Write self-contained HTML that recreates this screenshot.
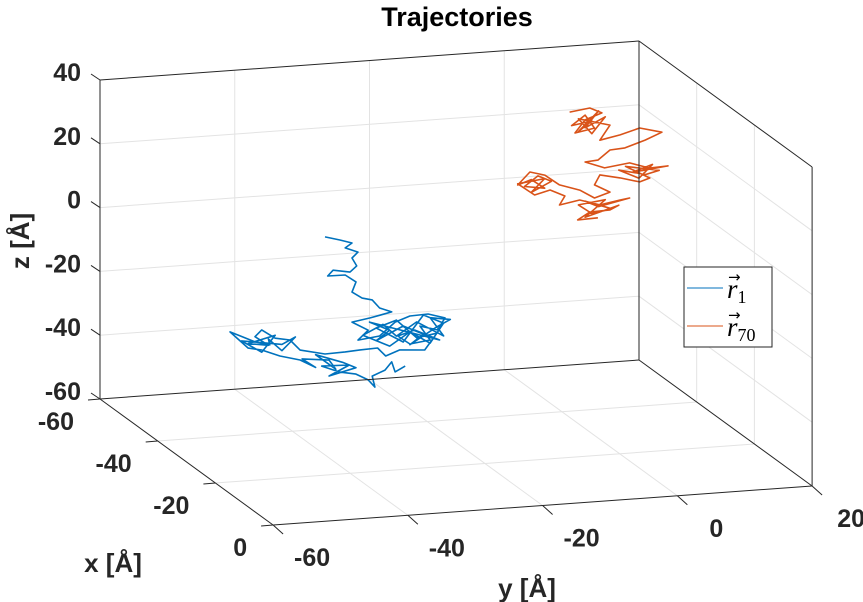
<!DOCTYPE html>
<html><head><meta charset="utf-8"><style>
html,body{margin:0;padding:0;background:#fff;}
svg{display:block;font-family:"Liberation Sans",Arial,sans-serif;}
</style></head><body>
<svg id="chart" width="863" height="602" viewBox="0 0 863 602" xmlns="http://www.w3.org/2000/svg">
<text x="457" y="26" text-anchor="middle" font-size="27" font-weight="bold" fill="#000">Trajectories</text>
<g id="grid"></g>
<g id="series"></g>
<g id="box"></g>
<g id="ticks"></g>
<text x="113" y="572" text-anchor="middle" font-size="26" font-weight="bold" fill="#262626">x [Å]</text>
<text x="527" y="597" text-anchor="middle" font-size="26" font-weight="bold" fill="#262626">y [Å]</text>
<text transform="translate(29,241) rotate(-90)" text-anchor="middle" font-size="26" font-weight="bold" fill="#262626">z [Å]</text>
<g>
  <rect x="684" y="267" width="88" height="80" fill="#fff" stroke="#262626" stroke-width="1"/>
  <line x1="687" y1="288" x2="723" y2="288" stroke="#0072BD" stroke-width="1"/>
  <text x="727" y="298" font-family="Liberation Serif,serif" font-size="27" font-style="italic" fill="#000">r<tspan font-style="normal" font-size="18" dy="5">1</tspan></text>
  <text x="728" y="282" font-family="DejaVu Sans,sans-serif" font-size="15" fill="#000">→</text>
  <line x1="687" y1="326" x2="723" y2="326" stroke="#D95319" stroke-width="1"/>
  <text x="727" y="336" font-family="Liberation Serif,serif" font-size="27" font-style="italic" fill="#000">r<tspan font-style="normal" font-size="18" dy="5">70</tspan></text>
  <text x="728" y="320" font-family="DejaVu Sans,sans-serif" font-size="15" fill="#000">→</text>
</g>
</svg>
<script>
const xTicks=[-60,-40,-20,0];
const yTicks=[-60,-40,-20,0,20];
const zTicks=[-60,-40,-20,0,20,40];
const xLim=[-60,0], yLim=[-60,20], zLim=[-60,40];
// trajectory r1 (blue) : y, z values at x = -60
const r1Y=[-26.6,-24.4,-22.6,-23.6,-21.7,-22.6,-21.9,-22.9,-25.4,-26.2,-23.6,-22.0,-22.6,-21.1,-19.6,-18.5,-16.7,-19.9,-22.6,-20.2,-21.7,-18.5,-16.2,-14.0,-11.3,-8.8,-9.9,-12.5,-11.0,-14.0,-15.8,-13.3,-9.6,
 -20,-17,-19,-15,-12,-14,-10,-8,-11,-9,-13,-16,-18,-21,-17,-14,-11,-9,-12,-15,-19,-16,-13,-10,
 -11.8,-15.5,-17.6,-18.8,-21.4,-23.6,-26.6,-30.3,-31.8,-34.0,-36.0,
 -37,-35,-38,-34,-36,-39,-33,-31,-33,-35,
 -34.8,-37.0,-39.2,-40.7,-38.0,-36.0,-33.3,-30.3,
 -28,-30,-26,-25,-28,-24,-22,-26,-23,
 -27.1,-24.4,-22.0,-20.2,-19.2,-19.6,-17.7,-16.7,-16.2,-14.7];
const r1Z=[-14.3,-15.6,-16.8,-18.2,-19.8,-21.5,-24.1,-25.9,-24.9,-26.6,-26.7,-29.1,-32.2,-34.3,-35.1,-37.8,-39.3,-40.7,-41.6,-44.5,-47.4,-46.6,-42.6,-41.0,-40.8,-42.4,-46.0,-44.4,-49.0,-49.8,-47.0,-45.5,-49.2,
 -42,-45,-48,-44,-47,-50,-45,-43,-42,-48,-43,-47,-43,-46,-50,-46,-50,-44,-41,-49,-44,-42,-48,-47,
 -52.0,-51.4,-53.0,-50.3,-50.5,-50.8,-51.0,-49.2,-45.8,-44.9,-42.0,
 -44,-47,-46,-44,-49,-45,-47,-45,-49,-45,
 -46.9,-45.6,-43.4,-41.9,-47.4,-48.3,-50.6,-52.3,
 -55,-52,-53,-56,-51,-54,-56,-58,-55,
 -54.7,-57.0,-58.0,-60.1,-62.5,-59.0,-57.4,-55.0,-58.2,-56.6];
// trajectory r70 (orange)
const r70Y=[9.7,12.7,14.5,12.0,10.5,13.4,
 12,10,13,11,14,12,15,13,11,
 15.7,14.2,17.2,20.1,23.4,20.9,17.9,15.7,13.9,12.0,14.9,18.6,21.6,24.3,
 19,22,20,17,21,23,18,
 21.6,20.1,17.2,14.2,13.4,15.7,13.4,11.2,8.2,6.0,3.8,2.0,
 4,6,3,5,7,4,6,2,
 4.5,6.8,9.0,8.2,11.2,14.2,17.2,18.6,
 14,12,16,13,11,15,12,17,
 15.7,12.7,10.9,13.9];
const r70Z=[19.3,20.1,18.3,16.5,12.6,13.7,
 18,15,16,13,19,14,17,12,17,
 14.3,9.8,11.0,12.7,10.9,8.8,6.8,6.5,3.6,3.3,1.0,2.0,-0.1,0.2,
 -1,1,-3,0,-2,-1,1,
 -3.2,-4.2,-2.5,-1.1,-4.1,-6.7,-8.2,-5.4,-3.3,0.1,1.4,-2.4,
 -1,-4,-3,0,-2,-5,-1,-2,
 -5.9,-4.7,-6.9,-9.6,-8.5,-10.5,-9.4,-9.0,
 -11,-9,-12,-13,-10,-9,-14,-11,
 -12.3,-12.5,-14.7,-14.5];
const trajX=-60;

function P(x,y,z){
  const X=x-xLim[0], Y=y-yLim[0], Z=z-zLim[0];
  return [100+X*2.885+Y*6.7375, 399+X*2.1-Y*0.4875-Z*3.19];
}
const NS="http://www.w3.org/2000/svg";
function mk(tag,parent,attrs){const e=document.createElementNS(NS,tag);for(const k in attrs)e.setAttribute(k,attrs[k]);parent.appendChild(e);return e;}
function seg(parent,a,b,color,w,name){
  const l=mk('line',parent,{x1:a[0],y1:a[1],x2:b[0],y2:b[1],stroke:color,'stroke-width':w});
  
  
  return l;
}
const grid=document.getElementById('grid');
const gc='#e3e3e3';
const [x0,x1]=xLim,[y0,y1]=yLim,[z0,z1]=zLim;
yTicks.forEach(y=>{if(y>y0&&y<y1)seg(grid,P(x0,y,z0),P(x0,y,z1),gc,1,'grid-back-y');});
zTicks.forEach(z=>{if(z>z0&&z<z1)seg(grid,P(x0,y0,z),P(x0,y1,z),gc,1,'grid-back-z');});
xTicks.forEach(x=>{if(x>x0&&x<x1)seg(grid,P(x,y1,z0),P(x,y1,z1),gc,1,'grid-side-x');});
zTicks.forEach(z=>{if(z>z0&&z<z1)seg(grid,P(x0,y1,z),P(x1,y1,z),gc,1,'grid-side-z');});
xTicks.forEach(x=>{if(x>x0&&x<x1)seg(grid,P(x,y0,z0),P(x,y1,z0),gc,1,'grid-floor-x');});
yTicks.forEach(y=>{if(y>y0&&y<y1)seg(grid,P(x0,y,z0),P(x1,y,z0),gc,1,'grid-floor-y');});

const series=document.getElementById('series');
function traj(Ys,Zs,color,name){
  const pts=Ys.map((y,i)=>P(trajX,y,Zs[i]).map(v=>v.toFixed(1)).join(',')).join(' ');
  const pl=mk('polyline',series,{points:pts,fill:'none',stroke:color,'stroke-width':1.6,'stroke-linejoin':'round'});
  
  
}
traj(r1Y,r1Z,'#0072BD','trajectory-r1');
traj(r70Y,r70Z,'#D95319','trajectory-r70');

const box=document.getElementById('box');
const bc='#262626';
seg(box,P(x0,y0,z0),P(x0,y0,z1),bc,1,'edge-left');
seg(box,P(x0,y0,z1),P(x0,y1,z1),bc,1,'edge-back-top');
seg(box,P(x0,y1,z0),P(x0,y1,z1),bc,1,'edge-back-right');
seg(box,P(x0,y1,z1),P(x1,y1,z1),bc,1,'edge-right-top');
seg(box,P(x1,y1,z0),P(x1,y1,z1),bc,1,'edge-front-right');
seg(box,P(x0,y0,z0),P(x0,y1,z0),bc,1,'edge-back-bottom');
seg(box,P(x0,y1,z0),P(x1,y1,z0),bc,1,'edge-right-bottom');
seg(box,P(x0,y0,z0),P(x1,y0,z0),bc,1,'x-axis-line');
seg(box,P(x1,y0,z0),P(x1,y1,z0),bc,1,'y-axis-line');

const ticks=document.getElementById('ticks');
function lab(x,y,t,anchor,name){
  const e=mk('text',ticks,{x:x,y:y,'text-anchor':anchor,'font-size':25,'font-weight':'bold',fill:'#262626'});
  e.textContent=t;
  
  
}
zTicks.forEach(z=>{const p=P(x0,y0,z);seg(ticks,p,[p[0]-9,p[1]-6],bc,1,'z-tick');lab(81,p[1]+1,z,'end','z-tick-label');});
xTicks.forEach(x=>{const p=P(x,y0,z0);seg(ticks,p,[p[0]-12,p[1]+1],bc,1,'x-tick');lab(p[0]-26,p[1]+31,x,'end','x-tick-label');});
yTicks.forEach(y=>{const p=P(x1,y,z0);seg(ticks,p,[p[0]+10,p[1]+9],bc,1,'y-tick');lab(p[0]+39,p[1]+41,y,'middle','y-tick-label');});
</script>
</body></html>
